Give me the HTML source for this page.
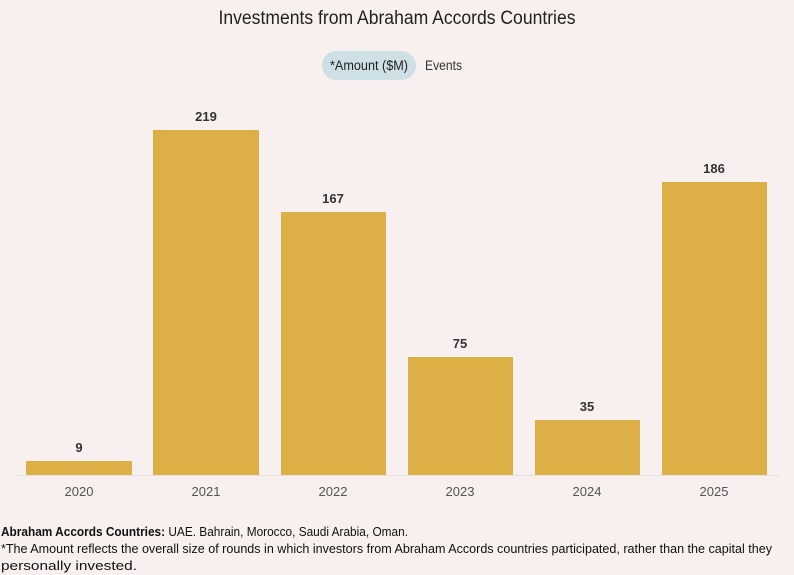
<!DOCTYPE html>
<html><head><meta charset="utf-8"><style>
html,body{margin:0;padding:0;background:#f8f0ee;}
svg{display:block;font-family:"Liberation Sans Narrow","Liberation Sans",sans-serif;}
</style></head><body>
<svg width="794" height="575" viewBox="0 0 794 575">
<rect width="794" height="575" fill="#f8f0ee"/>
<text x="397" y="24" text-anchor="middle" font-size="19" fill="#222" textLength="357" lengthAdjust="spacingAndGlyphs">Investments from Abraham Accords Countries</text>
<rect x="322" y="51" width="94" height="29" rx="14.5" fill="#cde0e6"/>
<text x="369" y="70" text-anchor="middle" font-size="13.5" fill="#222" textLength="78" lengthAdjust="spacingAndGlyphs">*Amount ($M)</text>
<text x="425" y="70" font-size="13.5" fill="#333" textLength="37" lengthAdjust="spacingAndGlyphs">Events</text>
<line x1="15" y1="475.5" x2="780" y2="475.5" stroke="#e6e0de"/>
<g fill="#dcaf47">
<rect x="26" y="461" width="106" height="14"/>
<rect x="153" y="130" width="106" height="345"/>
<rect x="281" y="212" width="105" height="263"/>
<rect x="408" y="357" width="105" height="118"/>
<rect x="535" y="420" width="105" height="55"/>
<rect x="662" y="182" width="105" height="293"/>
</g>
<g font-size="13" font-weight="bold" fill="#333" text-anchor="middle">
<text x="79" y="452">9</text>
<text x="206" y="121">219</text>
<text x="333" y="203">167</text>
<text x="460" y="348">75</text>
<text x="587" y="411">35</text>
<text x="714" y="173">186</text>
</g>
<g font-size="13" fill="#555" text-anchor="middle">
<text x="79" y="496">2020</text>
<text x="206" y="496">2021</text>
<text x="333" y="496">2022</text>
<text x="460" y="496">2023</text>
<text x="587" y="496">2024</text>
<text x="714" y="496">2025</text>
</g>
<g font-size="13" fill="#111">
<text x="1" y="536" textLength="407" lengthAdjust="spacingAndGlyphs"><tspan font-weight="bold">Abraham Accords Countries:</tspan> UAE. Bahrain, Morocco, Saudi Arabia, Oman.</text>
<text x="1" y="553" textLength="771" lengthAdjust="spacingAndGlyphs">*The Amount reflects the overall size of rounds in which investors from Abraham Accords countries participated, rather than the capital they</text>
<text x="1" y="570" textLength="136" lengthAdjust="spacingAndGlyphs">personally invested.</text>
</g>
</svg>
</body></html>
